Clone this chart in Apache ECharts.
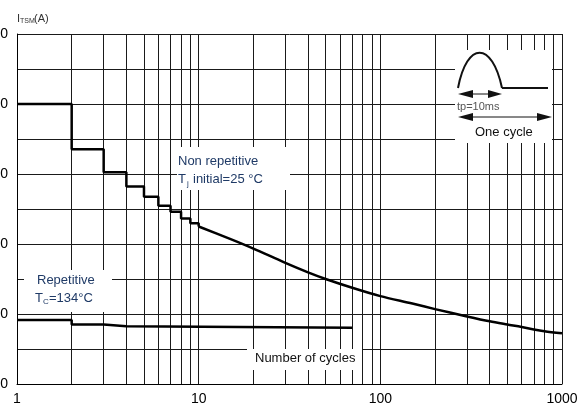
<!DOCTYPE html>
<html>
<head>
<meta charset="utf-8">
<script src="https://cdn.jsdelivr.net/npm/echarts@6/dist/echarts.min.js"></script>
<style>
  html, body { margin: 0; padding: 0; background: #fff; }
  #chart { width: 587px; height: 410px; }
</style>
</head>
<body>
<div id="chart"></div>
<script>
// Surge current vs. number of cycles
const FONT = '"Liberation Sans", Arial, sans-serif';

// Non repetitive, Tj initial = 25 °C: stepped region (1..10 cycles)
const nonRepStepCycles = [1, 2, 3, 4, 5, 6, 7, 8, 9, 10];
const nonRepStepValues = [80, 67.1, 60.5, 56.4, 53.5, 50.9, 49.2, 47.3, 45.9, 45.0];

// Non repetitive: continuous decay (10..1000 cycles)
const nonRepCurveCycles = [10, 15, 20, 30, 40, 50, 70, 100, 150, 200, 300, 400, 500, 600, 700, 800, 1000];
const nonRepCurveValues = [45.0, 41.4, 38.7, 34.6, 31.9, 30.0, 27.5, 25.1, 23.0, 21.4, 19.3, 17.9, 17.0, 16.3, 15.6, 15.1, 14.5];

// Repetitive, Tc = 134 °C
const repCycles = [1, 2, 3, 4, 70];
const repValues = [18.3, 17.0, 16.5, 16.1, 16.1];

// Axis ticks
const xTickLabels = [1, 10, 100, 1000];
const yTickLabels = [0, 20, 40, 60, 80, 100];
// Intermediate decade lines of the log grid
const xMinorGrid = [2, 3, 4, 5, 6, 7, 8, 9, 20, 30, 40, 50, 60, 70, 80, 90, 200, 300, 400, 500, 600, 700, 800, 900, 1000];

const zip = (xs, ys) => xs.map((x, i) => [x, ys[i]]);
const gridLine = { color: '#1a1a1a', width: 1, type: 'solid' };
const NAVY = '#1f3a66';

const chart = echarts.init(document.getElementById('chart'), null, { renderer: 'canvas' });

const option = {
  animation: false,
  backgroundColor: '#fff',
  grid: { left: 17, right: 25, top: 34, bottom: 26, containLabel: false, outerBoundsMode: 'none' },
  xAxis: {
    type: 'log',
    logBase: 10,
    min: 1,
    max: 1000,
    axisLine: { show: true, lineStyle: { color: '#000', width: 1 } },
    axisTick: { show: false },
    splitLine: { show: true, lineStyle: gridLine },
    axisLabel: {
      margin: 8,
      color: '#000',
      fontSize: 14,
      fontFamily: FONT,
      formatter: v => {
        const r = Math.round(v);
        return xTickLabels.includes(r) ? String(r) : '';
      }
    }
  },
  yAxis: {
    type: 'value',
    min: yTickLabels[0],
    max: yTickLabels[yTickLabels.length - 1],
    interval: 20,
    axisLine: { show: true, lineStyle: { color: '#000', width: 1 } },
    axisTick: { show: false },
    splitLine: { show: true, lineStyle: gridLine },
    minorTick: { show: false, splitNumber: 2 },
    minorSplitLine: { show: true, lineStyle: gridLine },
    axisLabel: {
      margin: 9,
      color: '#000',
      fontSize: 14,
      fontFamily: FONT
    }
  },
  series: [
    {
      name: 'gridlines',
      type: 'line',
      data: [],
      silent: true,
      markLine: {
        silent: true,
        symbol: ['none', 'none'],
        label: { show: false },
        lineStyle: gridLine,
        emphasis: { disabled: true },
        data: xMinorGrid.map(v => ({ xAxis: v }))
      }
    },
    {
      name: 'Non repetitive (steps)',
      type: 'line',
      step: 'end',
      data: zip(nonRepStepCycles, nonRepStepValues),
      showSymbol: false,
      lineStyle: { color: '#000', width: 2.5 },
      z: 5
    },
    {
      name: 'Non repetitive',
      type: 'line',
      smooth: 0.3,
      data: zip(nonRepCurveCycles, nonRepCurveValues),
      showSymbol: false,
      lineStyle: { color: '#000', width: 2.5 },
      z: 5
    },
    {
      name: 'Repetitive',
      type: 'line',
      step: 'end',
      data: zip(repCycles, repValues),
      showSymbol: false,
      lineStyle: { color: '#000', width: 2.5 },
      z: 5
    }
  ],
  graphic: [
    // axis title I_TSM(A)
    { type: 'text', z: 100, left: 17, top: 13,
      style: { text: 'I', font: '11px ' + FONT, fill: '#333' } },
    { type: 'text', z: 100, left: 20, top: 18,
      style: { text: 'TSM', font: '7px ' + FONT, fill: '#333' } },
    { type: 'text', z: 100, left: 34, top: 13,
      style: { text: '(A)', font: '11px ' + FONT, fill: '#333' } },

    // Non repetitive label
    { type: 'rect', z: 100, shape: { x: 177, y: 147, width: 113, height: 43 },
      style: { fill: '#fff' } },
    { type: 'text', z: 101, left: 178, top: 155,
      style: { text: 'Non repetitive', font: '13px ' + FONT, fill: NAVY } },
    { type: 'text', z: 101, left: 178, top: 173,
      style: { text: 'T', font: '13px ' + FONT, fill: NAVY } },
    { type: 'text', z: 101, left: 187, top: 180,
      style: { text: 'j', font: '8px ' + FONT, fill: NAVY } },
    { type: 'text', z: 101, left: 193, top: 173,
      style: { text: 'initial=25 °C', font: '13px ' + FONT, fill: NAVY } },

    // Repetitive label
    { type: 'rect', z: 100, shape: { x: 24, y: 270, width: 88, height: 42 },
      style: { fill: '#fff' } },
    { type: 'text', z: 101, left: 37, top: 274,
      style: { text: 'Repetitive', font: '13px ' + FONT, fill: NAVY } },
    { type: 'text', z: 101, left: 35, top: 292,
      style: { text: 'T', font: '13px ' + FONT, fill: NAVY } },
    { type: 'text', z: 101, left: 43, top: 298,
      style: { text: 'C', font: '8px ' + FONT, fill: NAVY } },
    { type: 'text', z: 101, left: 49, top: 292,
      style: { text: '=134°C', font: '13px ' + FONT, fill: NAVY } },

    // x-axis name
    { type: 'rect', z: 100, shape: { x: 247, y: 349, width: 115, height: 21 },
      style: { fill: '#fff' } },
    { type: 'text', z: 101, left: 255, top: 352,
      style: { text: 'Number of cycles', font: '13px ' + FONT, fill: '#111' } },

    // pulse inset
    { type: 'rect', z: 100, shape: { x: 455, y: 50, width: 97, height: 93 },
      style: { fill: '#fff' } },
    { type: 'bezierCurve', z: 101,
      shape: { x1: 458, y1: 88, cpx1: 467, cpy1: 41, cpx2: 492, cpy2: 41, x2: 502, y2: 88 },
      style: { stroke: '#111', lineWidth: 2, fill: null } },
    { type: 'line', z: 101, shape: { x1: 502, y1: 88, x2: 548, y2: 88 },
      style: { stroke: '#111', lineWidth: 2 } },
    // tp arrow
    { type: 'line', z: 101, shape: { x1: 462, y1: 94, x2: 498, y2: 94 },
      style: { stroke: '#111', lineWidth: 1 } },
    { type: 'polygon', z: 101, shape: { points: [[458, 94], [473, 90], [473, 98]] },
      style: { fill: '#111' } },
    { type: 'polygon', z: 101, shape: { points: [[502, 94], [488, 90], [488, 98]] },
      style: { fill: '#111' } },
    { type: 'text', z: 101, left: 457, top: 101,
      style: { text: 'tp=10ms', font: '11px ' + FONT, fill: '#555' } },
    // one cycle arrow
    { type: 'line', z: 101, shape: { x1: 462, y1: 117, x2: 548, y2: 117 },
      style: { stroke: '#111', lineWidth: 1 } },
    { type: 'polygon', z: 101, shape: { points: [[458, 117], [473, 113], [473, 121]] },
      style: { fill: '#111' } },
    { type: 'polygon', z: 101, shape: { points: [[552, 117], [537, 113], [537, 121]] },
      style: { fill: '#111' } },
    { type: 'text', z: 101, left: 475, top: 126,
      style: { text: 'One cycle', font: '13px ' + FONT, fill: '#111' } }
  ]
};

chart.setOption(option);
</script>
</body>
</html>
